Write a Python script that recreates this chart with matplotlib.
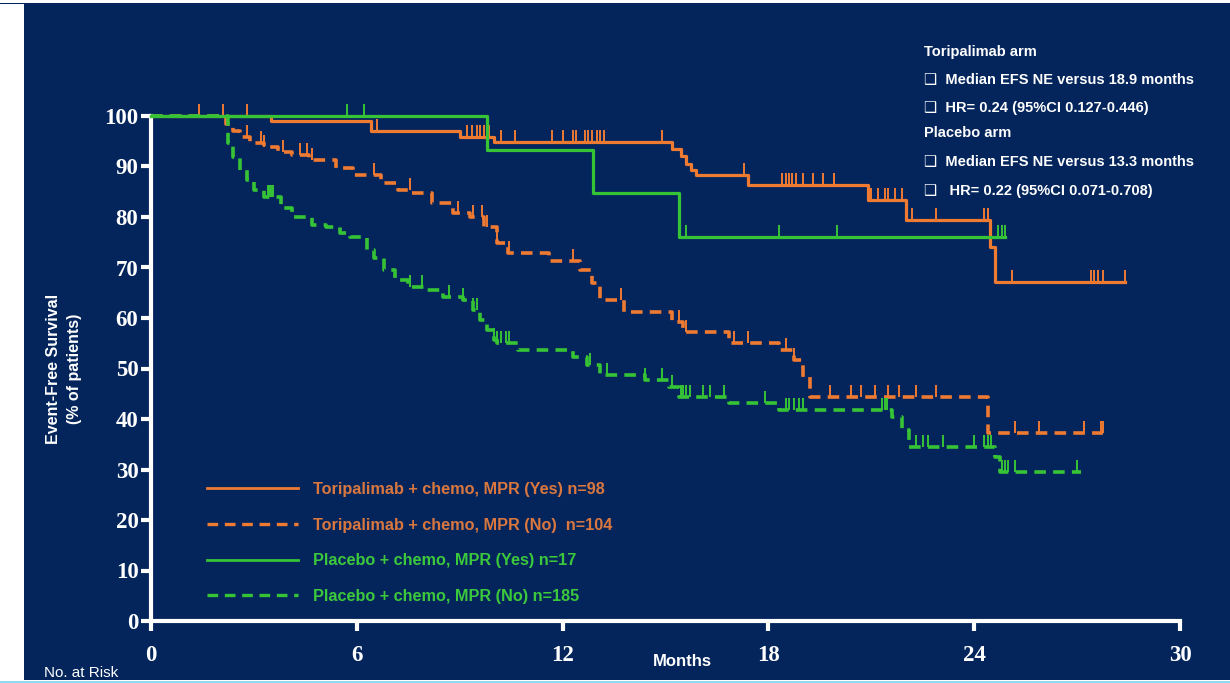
import numpy as np
import matplotlib
matplotlib.use("Agg")
import matplotlib.pyplot as plt
from matplotlib.patches import Rectangle
from matplotlib.lines import Line2D

# ---- Kaplan-Meier step data (months, % event-free) ----
tori_yes_t = [0, 3.5, 6.4, 9.0, 10.0, 15.2, 15.45, 15.6, 15.75, 15.9, 17.4, 20.9, 22.0, 24.45, 24.6, 28.4]
tori_yes_s = [100, 99.0, 97.1, 95.9, 94.9, 93.5, 92.0, 90.5, 89.3, 88.3, 86.3, 83.4, 79.4, 74.1, 67.2, 67.2]
tori_yes_c = [1.4, 2.1, 2.8, 6.6, 9.2, 9.35, 9.5, 9.6, 9.7, 9.85, 10.2, 10.6, 11.7, 12.0, 12.3,
              12.4, 12.65, 12.75, 12.85, 13.0, 13.1, 13.2, 14.9, 17.3, 18.4, 18.5, 18.6, 18.7,
              18.8, 19.0, 19.3, 19.6, 19.9, 21.0, 21.2, 21.4, 21.5, 21.7, 21.9, 22.2, 22.9,
              24.3, 24.4, 25.1, 27.4, 27.5, 27.6, 27.75, 28.4]

tori_no_t = [0, 2.2, 2.4, 2.6, 2.9, 3.3, 3.7, 4.1, 4.6, 5.4, 5.9, 6.7, 7.2, 7.6, 8.2, 8.8, 9.3,
             9.7, 10.1, 10.4, 11.6, 12.5, 12.85, 13.1, 13.8, 15.2, 15.5, 16.85, 18.3, 18.75,
             19.0, 19.2, 24.4, 27.75]
tori_no_s = [100, 98.5, 97.0, 95.8, 94.6, 93.8, 92.8, 92.3, 91.3, 89.7, 88.3, 86.7, 85.3, 84.7,
             82.8, 80.8, 80.0, 78.0, 74.8, 72.9, 71.3, 69.5, 66.9, 63.6, 61.2, 59.2, 57.2, 55.0,
             53.7, 51.7, 48.3, 44.4, 37.2, 37.2]
tori_no_c = [2.8, 3.2, 3.3, 3.85, 4.35, 4.55, 4.7, 6.5, 7.55, 8.95, 9.4, 9.65, 9.8, 10.1, 10.45,
             12.3, 13.7, 15.4, 15.6, 17.0, 17.4, 18.5, 18.75, 19.8, 20.4, 20.7, 21.1, 21.5,
             21.8, 22.3, 22.9, 25.2, 25.9, 27.2, 27.7, 27.75]

plac_yes_t = [0, 9.8, 12.9, 15.4, 24.9]
plac_yes_s = [100, 93.3, 84.8, 76.1, 76.1]
plac_yes_c = [5.7, 6.2, 15.6, 18.3, 20.0, 24.7, 24.8, 24.9]

plac_no_t = [0, 2.25, 2.4, 2.6, 2.8, 3.0, 3.3, 3.8, 4.1, 4.7, 5.1, 5.5, 5.8, 6.3, 6.5, 6.8, 7.1,
             7.5, 8.0, 8.5, 9.1, 9.4, 9.6, 9.8, 10.0, 10.1, 10.7, 12.3, 12.7, 13.1, 14.4, 15.1,
             15.4, 16.85, 18.3, 21.6, 21.9, 22.1, 24.6, 24.75, 27.1]
plac_no_s = [100, 94.6, 91.9, 89.3, 87.3, 85.3, 84.0, 81.8, 80.0, 78.4, 78.0, 76.8, 76.0, 73.5,
             71.8, 69.5, 67.5, 66.1, 65.5, 64.2, 63.6, 61.6, 59.6, 57.6, 55.6, 55.0, 53.7, 52.3,
             50.7, 48.7, 47.7, 46.3, 44.4, 43.2, 41.8, 40.4, 37.8, 34.5, 32.5, 29.5, 29.5]
plac_no_c = [3.4, 3.45, 3.5, 3.55, 7.55, 7.9, 8.7, 9.1, 9.4, 9.5, 10.0, 10.1, 10.2, 10.35, 10.45,
             12.8, 13.3, 14.4, 14.9, 15.2, 15.45, 15.5, 15.6, 15.7, 16.1, 16.3, 16.7, 17.9,
             18.5, 18.6, 18.75, 18.9, 19.0, 21.3, 21.4, 21.45, 22.3, 22.5, 22.65, 23.1, 24.0,
             24.3, 24.4, 24.5, 24.8, 24.9, 25.0, 25.2, 27.0]

labels = ["Toripalimab + chemo, MPR (Yes) n=98",
          "Toripalimab + chemo, MPR (No)  n=104",
          "Placebo + chemo, MPR (Yes) n=17",
          "Placebo + chemo, MPR (No) n=185"]

x_ticks = [0, 6, 12, 18, 24, 30]
y_ticks = [0, 10, 20, 30, 40, 50, 60, 70, 80, 90, 100]

notes = ["Toripalimab arm",
         "\u2751  Median EFS NE versus 18.9 months",
         "\u2751  HR= 0.24 (95%CI 0.127-0.446)",
         "Placebo arm",
         "\u2751  Median EFS NE versus 13.3 months",
         "\u2751   HR= 0.22 (95%CI 0.071-0.708)"]

NAVY = "#03255B"
ORANGE = "#EF7A32"
GREEN = "#36C436"
ORANGE_TXT = "#D9773F"
GREEN_TXT = "#3CC83C"

W, H = 1230, 683
fig = plt.figure(figsize=(W / 100, H / 100), dpi=100, facecolor="white")

# slide background panel
fig.patches.append(Rectangle((24 / W, 3 / H), 1 - 24 / W, 1 - 7 / H, transform=fig.transFigure,
                             facecolor=NAVY, edgecolor="none", zorder=-10))
fig.patches.append(Rectangle((0, 1 - 4 / H), 1, 1.2 / H, transform=fig.transFigure,
                             facecolor=NAVY, edgecolor="none", zorder=-9))
fig.patches.append(Rectangle((0, 0), 1, 2.5 / H, transform=fig.transFigure,
                             facecolor="#8FD8F0", edgecolor="none", zorder=-9))

ax = fig.add_axes([151 / W, 1 - 621 / H, (1180 - 151) / W, (621 - 116) / H])
ax.set_facecolor("none")
ax.set_xlim(0, 30)
ax.set_ylim(0, 100)

TICK_FONT = {"family": "Liberation Serif", "weight": "bold"}
DASH = (0, (3.2, 2.0))


def km(t, s, c, color, ls, lw, label):
    line, = ax.step(t, s, where="post", color=color, lw=lw, linestyle=ls,
                    label=label, clip_on=False, zorder=3)
    ta = np.asarray(t)
    sa = np.asarray(s)
    idx = np.searchsorted(ta, np.asarray(c), side="right") - 1
    cs = sa[idx]
    ax.vlines(c, cs, cs + 2.4, color=color, lw=1.4, clip_on=False, zorder=3)
    return line


km(tori_yes_t, tori_yes_s, tori_yes_c, ORANGE, "-", 2.3, labels[0])
km(tori_no_t, tori_no_s, tori_no_c, ORANGE, DASH, 2.6, labels[1])
km(plac_yes_t, plac_yes_s, plac_yes_c, GREEN, "-", 2.3, labels[2])
km(plac_no_t, plac_no_s, plac_no_c, GREEN, DASH, 2.6, labels[3])

# axes styling
for side in ("top", "right"):
    ax.spines[side].set_visible(False)
for side in ("left", "bottom"):
    ax.spines[side].set_color("white")
    ax.spines[side].set_linewidth(3)
ax.set_xticks(x_ticks)
ax.set_yticks(y_ticks)
ax.set_xticklabels([str(v) for v in x_ticks], fontdict=TICK_FONT, fontsize=16.5, color="white")
ax.set_yticklabels([str(v) for v in y_ticks], fontdict=TICK_FONT, fontsize=16.5, color="white")
ax.tick_params(axis="both", colors="white", width=3, length=7, pad=2)
ax.tick_params(axis="x", pad=10)

ax.set_ylabel("Event-Free Survival\n(% of patients)", family="Liberation Sans", weight="bold",
              fontsize=11.5, color="white", labelpad=16, linespacing=1.55)
fig.text(682 / W, 1 - 662 / H, "Months", family="Liberation Sans", weight="bold",
         fontsize=12, color="white", ha="center", va="center")
fig.text(44 / W, 1 - 673 / H, "No. at Risk", family="Liberation Sans",
         fontsize=11, color="white", ha="left", va="center")

# legend
leg_handles = [Line2D([], [], color=ORANGE, lw=2.0),
               Line2D([], [], color=ORANGE, lw=2.4, linestyle=DASH),
               Line2D([], [], color=GREEN, lw=2.0),
               Line2D([], [], color=GREEN, lw=2.4, linestyle=DASH)]
leg = fig.legend(leg_handles, labels, loc="upper left", bbox_to_anchor=(207 / W, 1 - 482 / H),
                 frameon=False, handlelength=5.6, handletextpad=0.95, labelspacing=1.27,
                 borderpad=0, borderaxespad=0,
                 prop={"family": "Liberation Sans", "weight": "bold", "size": 11.7})
for txt, col in zip(leg.get_texts(), [ORANGE_TXT, ORANGE_TXT, GREEN_TXT, GREEN_TXT]):
    txt.set_color(col)

# summary annotations
note_y = [52, 80, 108, 133, 162, 191]
for txt, yy in zip(notes, note_y):
    fig.text(924 / W, 1 - yy / H, txt, family=["Liberation Sans", "DejaVu Sans"],
             weight="bold", fontsize=10.5, color="white", ha="left", va="center")

fig.savefig("out.png", dpi=100, facecolor=fig.get_facecolor())
